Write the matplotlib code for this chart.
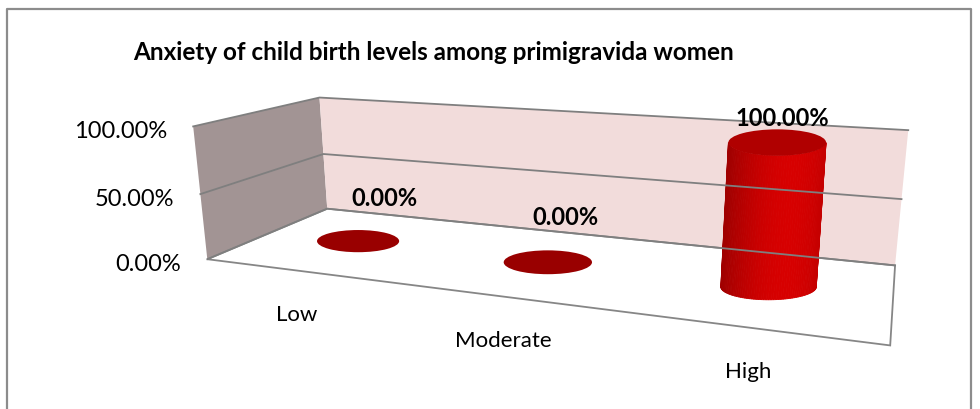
import numpy as np
import matplotlib.pyplot as plt
from matplotlib.patches import Polygon, Ellipse

categories = ['Low', 'Moderate', 'High']
values = [0.0, 0.0, 1.0]
tick_values = [0.0, 0.5, 1.0]
tick_labels = ['0.00%', '50.00%', '100.00%']
title = 'Anxiety of child birth levels among primigravida women'

plt.rcParams['font.family'] = ['Lato', 'DejaVu Sans']

# 3d box: u = category axis, v = value (0..1), w = depth (0 back, 1 front)
# and where its corners sit on the page in pixels
box_pts = [(0, 0, 0), (1, 0, 0), (0, 1, 0), (1, 1, 0), (0, 0, 1), (1, 0, 1), (0, 1, 1),
           (0, .5, 0), (1, .5, 0), (0, .5, 1)]
box_px = [(327, 208), (895, 267), (320, 99), (908, 131), (208, 262), (890, 346), (193, 127),
          (323, 156), (902, 200), (200, 194)]

# fit one camera matrix (DLT) so everything goes through the same perspective
rows = []
for (x, y, z), (px, py) in zip(box_pts, box_px):
    X = [x, y, z, 1]
    px, py = px / 1000, py / 1000
    rows.append(X + [0, 0, 0, 0] + [-px * c for c in X])
    rows.append([0, 0, 0, 0] + X + [-py * c for c in X])
P = np.linalg.svd(np.array(rows, float))[2][-1].reshape(3, 4)


def proj(u, v, w):
    p = P @ np.array([u, v, w, 1.0])
    return 1000 * p[0] / p[2], 1000 * p[1] / p[2]


fig = plt.figure(figsize=(9.8, 4.1), dpi=100)
ax = fig.add_axes([0, 0, 1, 1])
ax.set_xlim(0, 980)
ax.set_ylim(410, 0)
ax.axis('off')

# outer chart frame
ax.plot([7, 7, 971, 971], [415, 10, 10, 415], color='#8c8c8c', lw=1.6)

# walls and floor
left = [proj(0, 0, 0), proj(0, 1, 0), proj(0, 1, 1), proj(0, 0, 1)]
back = [proj(0, 0, 0), proj(1, 0, 0), proj(1, 1, 0), proj(0, 1, 0)]
floor = [proj(0, 0, 0), proj(1, 0, 0), proj(1, 0, 1), proj(0, 0, 1)]
ax.add_patch(Polygon(left, closed=True, facecolor='#a29494', edgecolor='none'))
ax.add_patch(Polygon(back, closed=True, facecolor='#f2dcdb', edgecolor='none'))
ax.add_patch(Polygon(floor, closed=True, facecolor='white', edgecolor='#868686', lw=1.3))

# gridlines on left and back wall
for t in tick_values:
    pts = [proj(0, t, 1), proj(0, t, 0), proj(1, t, 0)]
    ax.plot([p[0] for p in pts], [p[1] for p in pts], color='#7f7f7f', lw=1.3)

# value axis labels
for t, lab in zip(tick_values, tick_labels):
    x, y = proj(0, t, 1)
    ax.text(x - 26, y + 4, lab, ha='right', va='center', fontsize=17)

# cylinders
r = 0.072
w0 = 0.5


def ellipse_at(u0, v):
    cx, cy = proj(u0, v, w0)
    a = (proj(u0 + r, v, w0)[0] - proj(u0 - r, v, w0)[0]) / 2
    # excel grows the cylinders less than the floor perspective, damp it
    a = 6.65 * np.sqrt(a)
    return cx, cy, a, 0.27 * a


for i, (cat, val) in enumerate(zip(categories, values)):
    u0 = (i + 0.5) / len(categories)
    bx, by, ba, bb = ellipse_at(u0, 0)
    if val == 0:
        ax.add_patch(Ellipse((bx, by), 2 * ba, 2 * bb, facecolor='#990000', edgecolor='none'))
    else:
        tx, ty, ta, tb = ellipse_at(u0, val)
        ang = np.linspace(0, np.pi, 61)
        for a1, a2 in zip(ang[:-1], ang[1:]):
            s = np.cos((a1 + a2) / 2)
            red = (160 + 55 * np.cos((s - 0.3) * np.pi / 2 / 1.3)) / 255
            quad = [(bx + ba * np.cos(a1), by + bb * np.sin(a1)),
                    (bx + ba * np.cos(a2), by + bb * np.sin(a2)),
                    (tx + ta * np.cos(a2), ty + tb * np.sin(a2)),
                    (tx + ta * np.cos(a1), ty + tb * np.sin(a1))]
            ax.add_patch(Polygon(quad, closed=True, facecolor=(red, 0, 0),
                                 edgecolor=(red, 0, 0), lw=0.6))
        ax.add_patch(Ellipse((tx, ty), 2 * ta, 2 * tb, facecolor='#b00000', edgecolor='none'))

    # data label
    lx, ly = proj(u0, val, 0.2)
    gap = 13 if val > 0 else 28
    ax.text(lx - 4, ly - gap, f'{val:.2%}', ha='center', va='center',
            fontsize=17, fontweight='bold')

    # category label
    cx, cy = proj(u0, 0, 1)
    ax.text(cx - 2, cy + 43, cat, ha='center', va='center', fontsize=16)

ax.text(434, 52, title, ha='center', va='center', fontsize=17.5, fontweight='bold')

fig.savefig('out.png', dpi=100)
